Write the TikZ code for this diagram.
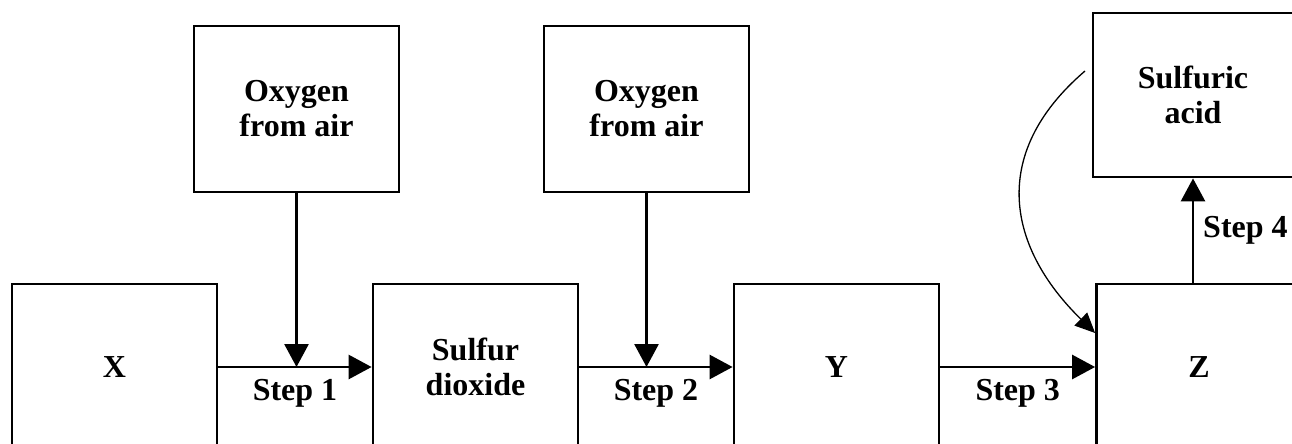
\documentclass[tikz,border=0pt]{standalone}
\usepackage{fontspec}
\setmainfont{Liberation Serif}
\usetikzlibrary{arrows.meta,calc}
\begin{document}
\begin{tikzpicture}[x=1pt,y=-1pt,
  box/.style={draw,line width=2.8pt,minimum width=205pt,minimum height=166pt,align=center,
    font=\fontsize{32}{35}\selectfont\bfseries,inner sep=0pt},
  flow/.style={line width=2.8pt,-{Triangle[length=23pt,width=24pt]}},
  curv/.style={line width=1.3pt,-{Triangle[length=20pt,width=18pt]}},
  lbl/.style={font=\fontsize{32}{35}\selectfont\bfseries,inner sep=0pt}]
\useasboundingbox (0,0) rectangle (1292,444);
\clip (0,0) rectangle (1292,444);
\node[box] (X) at (114.5,367) {X};
\node[box] (S) at (475.5,367) {Sulfur\\dioxide};
\node[box] (Y) at (836.5,367) {Y};
\node[box] (Z) at (1199,367) {Z};
\node[box] (O1) at (296.5,109) {Oxygen\\from air};
\node[box] (O2) at (646.5,109) {Oxygen\\from air};
\node[box,minimum width=200pt,minimum height=164pt] (SA) at (1193,95) {Sulfuric\\acid};
\draw[flow] (X.east) -- (S.west);
\draw[flow] (S.east) -- (Y.west);
\draw[flow] (Y.east) -- (Z.west);
\draw[flow] (O1.south) -- (O1.south |- X.east);
\draw[flow] (O2.south) -- (O2.south |- S.east);
\draw[flow] (Z.north -| SA.south) -- (SA.south);
\node[lbl,anchor=base] (l1) at ($(X.east)!0.5!(S.west)+(0,33)$) {Step 1};
\node[lbl,anchor=base] (l2) at ($(S.east)!0.5!(Y.west)+(0,33)$) {Step 2};
\node[lbl,anchor=base] (l3) at ($(Y.east)!0.5!(Z.west)+(0,33)$) {Step 3};
\node[lbl,anchor=base west] (l4) at ($(Z.north -| SA.south)!0.5!(SA.south)+(10,7)$) {Step 4};
\coordinate (cs) at (1085,71);
\draw[curv] (cs) .. controls (987,155) and (1009,249) .. ([yshift=34pt]Z.west);
\end{tikzpicture}
\end{document}
